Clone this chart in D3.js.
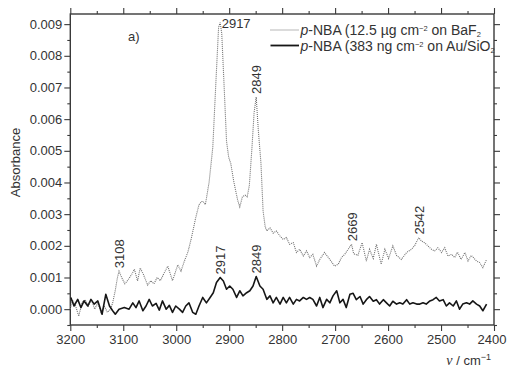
<!DOCTYPE html>
<html>
<head>
<meta charset="utf-8">
<script src="https://cdn.jsdelivr.net/npm/d3@7"></script>
<style>
  html, body { margin: 0; padding: 0; background: #fff; }
  svg { display: block; font-family: "Liberation Sans", Arial, sans-serif; }
</style>
</head>
<body>
<svg id="chart" width="507" height="368"></svg>
<script>
// p-NBA on BaF2 (dotted trace): wavenumber (cm^-1) and absorbance
const nuBaF2 = [3200, 3196, 3190, 3184, 3178, 3172, 3166, 3160, 3154, 3148, 3142, 3136, 3130, 3124, 3120,
  3115, 3111, 3108, 3103, 3097, 3092, 3084, 3079, 3073, 3068, 3062, 3054, 3048, 3042, 3036, 3030, 3024,
  3016, 3007, 2997, 2991, 2985, 2978, 2972, 2963, 2957, 2952, 2949, 2945, 2938, 2931, 2925, 2920, 2917,
  2914, 2910, 2905, 2901, 2897, 2891, 2884, 2880, 2875, 2870, 2866, 2862, 2857, 2853, 2849, 2845, 2840,
  2836, 2832, 2829, 2823, 2817, 2811, 2804, 2798, 2792, 2786, 2779, 2773, 2767, 2760, 2754, 2748, 2742,
  2735, 2729, 2720, 2710, 2701, 2694, 2688, 2682, 2675, 2669, 2665, 2657, 2649, 2641, 2635, 2628, 2622,
  2613, 2606, 2599, 2591, 2584, 2575, 2565, 2556, 2550, 2542, 2537, 2531, 2525, 2518, 2512, 2506, 2499,
  2493, 2487, 2480, 2474, 2469, 2462, 2455, 2449, 2443, 2433, 2427, 2421, 2414];
const absBaF2 = [0.0000, 0.0003, 0.0001, -0.00022, 0.0002, 0.0003, 0.0001, 0.0003, 0.0000, 0.0002, -0.0001,
  0.0001, -0.0001, 0.0000, 0.0002,
  0.0006, 0.0010, 0.0012, 0.0010, 0.0008, 0.0009, 0.0011, 0.00126, 0.00089, 0.0013, 0.0011, 0.00076,
  0.0009, 0.0008, 0.0010, 0.0009, 0.0011,
  0.00136, 0.0009, 0.0014, 0.0012, 0.0015, 0.0018, 0.0022, 0.0029, 0.0033, 0.0034, 0.0034, 0.0033,
  0.0040, 0.0051, 0.0072, 0.0089, 0.00905,
  0.0087, 0.0072, 0.0053, 0.0048, 0.0046, 0.0040, 0.00344, 0.00323, 0.00355, 0.0036, 0.00355, 0.0039,
  0.0051, 0.0062, 0.0067, 0.00565, 0.0046,
  0.0031, 0.0026, 0.00247, 0.00257, 0.0024, 0.00247, 0.00231, 0.0022, 0.00226, 0.00205, 0.0021, 0.00179,
  0.00189, 0.00168, 0.00184, 0.00163, 0.00173,
  0.00136, 0.00157, 0.00179, 0.00157, 0.00136, 0.00142, 0.00163, 0.00173, 0.0019, 0.00205, 0.00175,
  0.0017, 0.0021, 0.00152, 0.00189, 0.0016, 0.00205,
  0.00142, 0.00189, 0.0016, 0.0020, 0.0017, 0.00157, 0.00179, 0.00189, 0.0020, 0.00226, 0.00215, 0.0021,
  0.0020, 0.00189, 0.00184, 0.00194, 0.00179,
  0.00194, 0.00168, 0.00173, 0.00163, 0.0018, 0.00157, 0.00179, 0.00152, 0.0017, 0.00152, 0.00147,
  0.00131, 0.00157];

// p-NBA on Au/SiO2 (solid trace)
const nuAu = [3199, 3193, 3186, 3180, 3174, 3167, 3161, 3155, 3148, 3140, 3133, 3126, 3120, 3115, 3108,
  3098, 3089, 3082, 3076, 3070, 3063, 3057, 3051, 3045, 3038, 3032, 3026, 3019, 3013, 3007, 3001, 2994,
  2988, 2982, 2976, 2969, 2963, 2957, 2950, 2943, 2936, 2930, 2924, 2917, 2911, 2905, 2899, 2893, 2886,
  2880, 2874, 2867, 2861, 2855, 2849, 2842, 2836, 2829, 2823, 2817, 2811, 2804, 2798, 2792, 2786, 2779,
  2773, 2767, 2760, 2754, 2748, 2742, 2735, 2729, 2723, 2716, 2710, 2704, 2697, 2691, 2685, 2679, 2672,
  2666, 2660, 2653, 2647, 2641, 2635, 2628, 2622, 2616, 2609, 2603, 2597, 2591, 2584, 2578, 2572, 2565,
  2559, 2553, 2546, 2540, 2534, 2528, 2521, 2515, 2509, 2503, 2496, 2490, 2484, 2477, 2471, 2465, 2459,
  2452, 2446, 2440, 2433, 2427, 2421, 2414];
const absAu = [0.00037, 0.0001, 0.00031, 0.00005, 0.00026, 0.0001, 0.00031, 0.00016, 0.00026, -0.00016,
  0.00047, 0.0001, -0.00005, -0.00016, 0.0000,
  0.00005, 0.0000, 0.0002, 0.00005, 0.00026, -0.00005, 0.0001, 0.00031, 0.0001, 0.00018, -0.00003,
  0.00026, 0.0000, 0.00012, -0.0001, 0.0001, 0.0000,
  -0.0001, 0.0001, 0.0002, -0.0001, -0.00016, 0.0001, 0.00037, 0.0002, 0.00037, 0.00052, 0.00084, 0.0010,
  0.00089, 0.00063, 0.00073, 0.00063, 0.00037,
  0.00058, 0.00042, 0.00052, 0.00058, 0.00073, 0.00103, 0.00073, 0.00063, 0.00031, 0.00042, 0.0002,
  0.00037, 0.00016, 0.00037, 0.0002, 0.00037, 0.00016,
  0.00031, 0.00026, 0.00037, 0.00031, 0.00037, 0.00031, 0.0001, 0.00037, 0.00005, 0.00031, 0.0002,
  0.00042, 0.00058, 0.0002, 0.00031, 0.00005, 0.00047,
  0.0005, 0.0003, 0.0004, 0.00016, 0.0003, 0.0004, 0.00025, 0.0003, 0.00016, 0.0003, 0.0002, 0.0001,
  0.00025, 0.00016, 0.0002, 0.00016, 0.0003,
  0.00016, 0.0002, 0.00016, 0.00016, 0.0002, 0.00016, 0.00026, 0.0003, 0.00037, 0.00026, 0.0003, 0.0001,
  0.0002, 0.0001, 0.00026, 0.0000, 0.00016,
  0.0002, 0.00016, 0.00026, 0.00016, 0.0001, -0.00005, 0.00016];

// Axis ticks
const xTicks = [3200, 3100, 3000, 2900, 2800, 2700, 2600, 2500, 2400];
const xMinorTicks = [3150, 3050, 2950, 2850, 2750, 2650, 2550, 2450];
const yTicks = [0, 0.001, 0.002, 0.003, 0.004, 0.005, 0.006, 0.007, 0.008, 0.009];
const yMinorTicks = [-0.0005, 0.0005, 0.0015, 0.0025, 0.0035, 0.0045, 0.0055, 0.0065, 0.0075, 0.0085];

// Peak annotations
const peaksBaF2 = [3108, 2849, 2669, 2542];
const peakBaF2Top = 2917;
const peaksAu = [2917, 2849];

const margin = { left: 70.3, right: 13, top: 14, bottom: 43 };
const W = 507, H = 368;
const svg = d3.select("#chart");

const x = d3.scaleLinear().domain([3200, 2400]).range([margin.left, W - margin.right]);
const y = d3.scaleLinear().domain([-0.0005, 0.00932]).range([H - margin.bottom, margin.top]);

const axisColor = "#3a3a3a";
const textColor = "#333";

function styleAxis(g) {
  g.selectAll("path").remove();
  g.selectAll("line").attr("stroke", axisColor).attr("stroke-width", 1.1);
  g.selectAll("text").attr("fill", textColor).style("font-size", "13px")
    .style("font-family", "'Liberation Sans', Arial, sans-serif");
}

const bottomY = H - margin.bottom, topY = margin.top;
const leftX = margin.left, rightX = W - margin.right;

// bottom axis
const xAxisG = svg.append("g").attr("transform", `translate(0,${bottomY})`)
  .call(d3.axisBottom(x).tickValues(xTicks).tickSize(6).tickPadding(4).tickFormat(d3.format("d")))
  .call(styleAxis);
// keep the last label inside the canvas
xAxisG.selectAll(".tick text").filter(d => d === 2400).attr("dx", -2.5);
svg.append("g").attr("transform", `translate(0,${bottomY})`)
  .call(d3.axisBottom(x).tickValues(xMinorTicks).tickSize(3).tickFormat(""))
  .call(styleAxis);
// top axis
svg.append("g").attr("transform", `translate(0,${topY})`)
  .call(d3.axisTop(x).tickValues(xTicks).tickSize(6).tickFormat(""))
  .call(styleAxis);
svg.append("g").attr("transform", `translate(0,${topY})`)
  .call(d3.axisTop(x).tickValues(xMinorTicks).tickSize(3).tickFormat(""))
  .call(styleAxis);
// left axis
svg.append("g").attr("transform", `translate(${leftX},0)`)
  .call(d3.axisLeft(y).tickValues(yTicks).tickSize(6).tickPadding(2).tickFormat(d3.format(".3f")))
  .call(styleAxis);
svg.append("g").attr("transform", `translate(${leftX},0)`)
  .call(d3.axisLeft(y).tickValues(yMinorTicks).tickSize(3).tickFormat(""))
  .call(styleAxis);
// right axis
svg.append("g").attr("transform", `translate(${rightX},0)`)
  .call(d3.axisRight(y).tickValues(yTicks).tickSize(6).tickFormat(""))
  .call(styleAxis);
svg.append("g").attr("transform", `translate(${rightX},0)`)
  .call(d3.axisRight(y).tickValues(yMinorTicks).tickSize(3).tickFormat(""))
  .call(styleAxis);

// frame
svg.append("rect")
  .attr("x", leftX).attr("y", topY)
  .attr("width", rightX - leftX).attr("height", bottomY - topY)
  .attr("fill", "none").attr("stroke", axisColor).attr("stroke-width", 1.4);

// traces
const line = d3.line().x(d => x(d[0])).y(d => y(d[1]));
const baF2 = nuBaF2.map((n, i) => [n, absBaF2[i]]);
const au = nuAu.map((n, i) => [n, absAu[i]]);

svg.append("path").datum(baF2)
  .attr("d", line).attr("fill", "none")
  .attr("stroke", "#707070").attr("stroke-width", 1.1).attr("stroke-dasharray", "1,1");
svg.append("path").datum(au)
  .attr("d", line).attr("fill", "none")
  .attr("stroke", "#161616").attr("stroke-width", 1.6).attr("stroke-linejoin", "round");

// peak labels
function valueAt(series, nu) {
  return series.reduce((a, b) => Math.abs(b[0] - nu) < Math.abs(a[0] - nu) ? b : a)[1];
}
function vLabel(nu, val) {
  const px = x(nu) + 5, py = y(val) - 3;
  svg.append("text")
    .attr("transform", `translate(${px},${py}) rotate(-90)`)
    .attr("fill", textColor).style("font-size", "13px")
    .text(nu);
}
peaksBaF2.forEach(nu => vLabel(nu, valueAt(baF2, nu)));
peaksAu.forEach(nu => vLabel(nu, valueAt(au, nu)));
svg.append("text")
  .attr("x", x(peakBaF2Top) + 1.5).attr("y", y(valueAt(baF2, peakBaF2Top)) + 5)
  .attr("fill", textColor).style("font-size", "13px")
  .text(peakBaF2Top);

// panel tag
svg.append("text").attr("x", 128).attr("y", 41)
  .attr("fill", textColor).style("font-size", "13px").text("a)");

// y axis title
svg.append("text")
  .attr("transform", `translate(20,${(topY + bottomY) / 2 - 7}) rotate(-90)`)
  .attr("text-anchor", "middle").attr("fill", textColor).style("font-size", "13px")
  .text("Absorbance");

// x axis title
const xt = svg.append("text").attr("x", 491).attr("y", 365)
  .attr("text-anchor", "end").attr("fill", textColor).style("font-size", "13px");
xt.append("tspan").style("font-style", "italic").style("font-family", "'Liberation Serif', serif")
  .style("font-size", "14px").text("ν");
xt.append("tspan").text(" / cm");
xt.append("tspan").attr("dy", -5).style("font-size", "9px").text("−1");

// legend
const legend = svg.append("g");
const legendRows = [
  { dash: "1,1", color: "#707070", width: 1.1, y: 35, amount: "12.5 µg cm", sub: "BaF" },
  { dash: null, color: "#161616", width: 1.8, y: 50.5, amount: "383 ng cm", sub: "Au/SiO" }
];
legendRows.forEach(r => {
  legend.append("line")
    .attr("x1", 270.5).attr("x2", 299).attr("y1", r.y - 5).attr("y2", r.y - 5)
    .attr("stroke", r.color).attr("stroke-width", r.width)
    .attr("stroke-dasharray", r.dash);
  const t = legend.append("text").attr("x", 300.5).attr("y", r.y)
    .attr("fill", textColor).style("font-size", "14px");
  t.append("tspan").style("font-style", "italic").text("p");
  t.append("tspan").text("-NBA (" + r.amount);
  t.append("tspan").attr("dy", -4).style("font-size", "7.5px").text("−2");
  t.append("tspan").attr("dy", 4).text(" on " + r.sub);
  t.append("tspan").attr("dy", 2).style("font-size", "7.5px").text("2");
});
</script>
</body>
</html>
